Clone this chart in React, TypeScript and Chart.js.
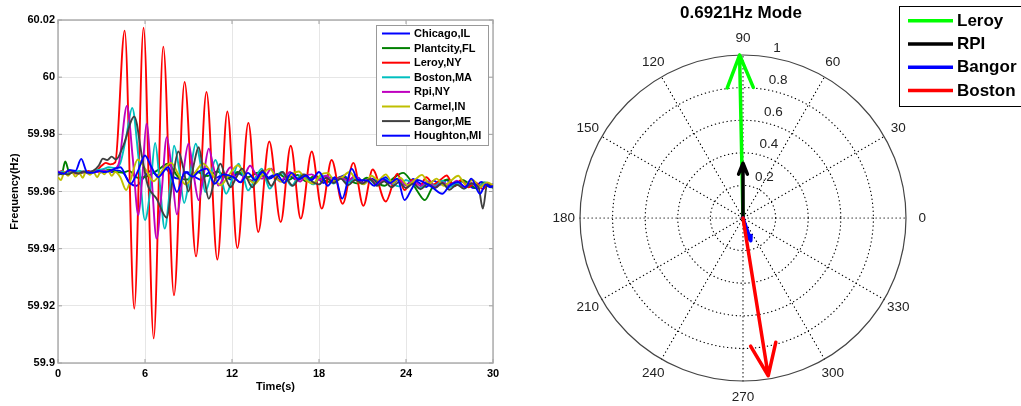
import React, { useEffect, useRef } from 'react';
import { Chart, registerables } from 'chart.js';

Chart.register(...registerables);

const FONT = '"Liberation Sans", Arial, Helvetica, sans-serif';
Chart.defaults.font.family = FONT;

const W_LEFT = 520;
const W_RIGHT = 501;
const H = 406;

// ---------------- Left chart: frequency traces ----------------
const xTickValues = [0, 6, 12, 18, 24, 30];
const xTickLabels = ['0', '6', '12', '18', '24', '30'];
const yTickValues = [59.9, 59.92, 59.94, 59.96, 59.98, 60, 60.02];
const yTickLabels = ['59.9', '59.92', '59.94', '59.96', '59.98', '60', '60.02'];

const seriesNames = ['Chicago,IL', 'Plantcity,FL', 'Leroy,NY', 'Boston,MA', 'Rpi,NY', 'Carmel,IN', 'Bangor,ME', 'Houghton,MI'];
const seriesColors = ['#0000ff', '#008000', '#ff0000', '#00bfbf', '#bf00bf', '#bfbf00', '#404040', '#0000ff'];

// [time (s), frequency (Hz)]
const chicago = [
  [0, 59.9662], [0.3, 59.9668], [0.7, 59.966], [1.0, 59.967], [1.4, 59.9664], [1.8, 59.9669], [2.1, 59.9663], [2.5, 59.9671], [2.9, 59.9666], [3.3, 59.9673],
  [3.7, 59.9668], [4.1, 59.9674], [4.5, 59.9665], [5.0, 59.9628], [5.4, 59.962], [5.9, 59.9648], [6.4, 59.9672], [6.9, 59.9656], [7.4, 59.968], [7.9, 59.9652],
  [8.4, 59.9644], [8.9, 59.9668], [9.4, 59.9652], [9.9, 59.964], [10.4, 59.9666], [10.9, 59.9648], [11.4, 59.966], [11.9, 59.9642], [12.4, 59.9664], [12.9, 59.965],
  [13.4, 59.9638], [13.9, 59.9662], [14.4, 59.9646], [14.9, 59.9658], [15.4, 59.9636], [15.9, 59.9655], [16.4, 59.9643], [16.9, 59.966], [17.3, 59.9638], [17.8, 59.9652],
  [18.3, 59.963], [18.8, 59.965], [19.2, 59.964], [19.7, 59.9656], [20.2, 59.9633], [20.7, 59.9648], [21.1, 59.9628], [21.6, 59.9645], [22.1, 59.9636], [22.6, 59.965],
  [23.0, 59.9627], [23.5, 59.964], [24.0, 59.9622], [24.5, 59.9644], [24.9, 59.963], [25.4, 59.9616], [25.9, 59.9638], [26.4, 59.9624], [26.8, 59.964], [27.3, 59.9618],
  [27.8, 59.9635], [28.3, 59.9622], [28.7, 59.9612], [29.2, 59.9633], [29.7, 59.9618], [30, 59.9626],
];
const plantcity = [
  [0, 59.9668], [0.25, 59.966], [0.5, 59.9705], [0.8, 59.9665], [1.1, 59.9672], [1.5, 59.9664], [1.9, 59.967], [2.3, 59.9666], [2.7, 59.9674], [3.1, 59.9668],
  [3.5, 59.9676], [3.9, 59.967], [4.4, 59.9666], [4.9, 59.9672], [5.5, 59.9648], [6.1, 59.9652], [6.8, 59.9672], [7.6, 59.9697], [8.3, 59.965], [8.9, 59.9642],
  [9.6, 59.9668], [10.3, 59.9654], [11.0, 59.967], [11.7, 59.9646], [12.4, 59.9668], [13.1, 59.965], [13.8, 59.9666], [14.5, 59.9645], [15.2, 59.9662], [15.9, 59.964],
  [16.5, 59.9658], [17.1, 59.9636], [17.7, 59.9655], [18.3, 59.964], [18.9, 59.9632], [19.5, 59.9652], [20.1, 59.9638], [20.7, 59.9628], [21.3, 59.9648], [21.9, 59.9634],
  [22.5, 59.962], [23.1, 59.9645], [23.8, 59.9665], [24.3, 59.964], [24.8, 59.96], [25.3, 59.957], [25.8, 59.9612], [26.3, 59.963], [26.9, 59.9642], [27.4, 59.962],
  [27.9, 59.964], [28.4, 59.9625], [28.9, 59.961], [29.4, 59.9632], [30, 59.9618],
];
const leroy = [
  [0, 59.9665], [0.3, 59.9672], [0.6, 59.966], [0.9, 59.9668], [1.2, 59.9663], [1.5, 59.967], [1.8, 59.9666], [2.1, 59.9672], [2.4, 59.9667], [2.7, 59.9675],
  [3.0, 59.969], [3.3, 59.97], [3.6, 59.9695], [3.95, 59.9702], [4.6, 60.0163], [5.26, 59.919], [5.9, 60.0173], [6.6, 59.9086], [7.26, 60.0107], [8.0, 59.9237],
  [8.73, 59.9983], [9.52, 59.9373], [10.24, 59.9948], [10.99, 59.9362], [11.68, 59.988], [12.37, 59.9402], [13.13, 59.984], [13.81, 59.9458], [14.57, 59.9775], [15.36, 59.9493],
  [16.05, 59.976], [16.74, 59.9505], [17.5, 59.974], [18.19, 59.954], [18.87, 59.971], [19.63, 59.9557], [20.37, 59.97], [21.06, 59.955], [21.7, 59.9677], [22.6, 59.9565],
  [23.4, 59.9662], [23.9, 59.9605], [24.4, 59.964], [24.9, 59.9612], [25.4, 59.965], [25.9, 59.9625], [26.4, 59.9642], [26.8, 59.9656], [27.3, 59.9618], [27.8, 59.964],
  [28.3, 59.9615], [28.8, 59.9632], [29.3, 59.9608], [29.7, 59.9628], [30, 59.9615],
];
const boston = [
  [0, 59.9665], [0.3, 59.967], [0.7, 59.9663], [1.1, 59.9668], [1.5, 59.9672], [1.9, 59.9665], [2.3, 59.967], [2.7, 59.9675], [3.1, 59.9678], [3.5, 59.9685],
  [3.9, 59.9682], [4.3, 59.97], [4.7, 59.979], [5.12, 59.9892], [5.55, 59.972], [6.0, 59.95], [6.35, 59.96], [6.7, 59.977], [7.0, 59.964], [7.36, 59.947],
  [7.7, 59.96], [8.0, 59.976], [8.35, 59.968], [8.7, 59.956], [9.1, 59.966], [9.5, 59.9767], [9.85, 59.969], [10.15, 59.9598], [10.5, 59.965], [10.85, 59.971],
  [11.2, 59.966], [11.6, 59.9592], [12.0, 59.964], [12.45, 59.9697], [12.8, 59.965], [13.1, 59.9604], [13.6, 59.9645], [14.05, 59.968], [14.35, 59.964], [14.6, 59.961],
  [15.0, 59.964], [15.4, 59.9668], [15.75, 59.9645], [16.1, 59.962], [16.5, 59.9645], [16.8, 59.966], [17.2, 59.964], [17.6, 59.9625], [18.0, 59.9648], [18.5, 59.9655],
  [19.0, 59.9628], [19.5, 59.9645], [20.0, 59.963], [20.5, 59.965], [21.0, 59.9626], [21.5, 59.964], [22.0, 59.9622], [22.5, 59.9645], [23.0, 59.963], [23.5, 59.9618],
  [24.0, 59.964], [24.5, 59.9625], [25.0, 59.9612], [25.5, 59.9635], [26.0, 59.962], [26.5, 59.9638], [27.0, 59.9615], [27.5, 59.963], [28.0, 59.961], [28.5, 59.9628],
  [29.0, 59.9615], [29.5, 59.9632], [30, 59.9612],
];
const rpi = [
  [0, 59.967], [0.35, 59.9664], [0.7, 59.9672], [1.05, 59.9667], [1.4, 59.9662], [1.75, 59.9669], [2.1, 59.9665], [2.45, 59.9672], [2.8, 59.9668], [3.15, 59.9674],
  [3.5, 59.967], [3.85, 59.9678], [4.2, 59.97], [4.76, 59.99], [5.15, 59.972], [5.54, 59.9517], [5.8, 59.964], [6.1, 59.9837], [6.45, 59.965], [6.8, 59.9435],
  [7.15, 59.96], [7.5, 59.979], [7.85, 59.967], [8.2, 59.952], [8.6, 59.965], [9.0, 59.9767], [9.35, 59.966], [9.7, 59.957], [10.05, 59.966], [10.4, 59.975],
  [10.7, 59.969], [11.05, 59.9621], [11.45, 59.965], [11.9, 59.9685], [12.2, 59.965], [12.55, 59.9633], [12.9, 59.966], [13.25, 59.969], [13.65, 59.966], [14.05, 59.9645],
  [14.4, 59.966], [14.7, 59.968], [15.0, 59.9655], [15.3, 59.9635], [15.65, 59.965], [16.0, 59.9668], [16.35, 59.9648], [16.7, 59.9635], [17.1, 59.9655], [17.5, 59.966],
  [18.0, 59.964], [18.5, 59.9655], [19.0, 59.9632], [19.5, 59.965], [20.0, 59.9638], [20.5, 59.9655], [21.0, 59.963], [21.5, 59.9646], [22.0, 59.9625], [22.5, 59.964],
  [23.0, 59.9628], [23.5, 59.9645], [24.0, 59.9622], [24.5, 59.9638], [25.0, 59.962], [25.5, 59.9635], [26.0, 59.9615], [26.5, 59.9632], [27.0, 59.9622], [27.5, 59.9638],
  [28.0, 59.9616], [28.5, 59.963], [29.0, 59.9612], [29.5, 59.9628], [30, 59.9618],
];
const carmel = [
  [0, 59.965], [0.2, 59.964], [0.45, 59.9668], [0.7, 59.9655], [0.95, 59.967], [1.2, 59.9652], [1.45, 59.9666], [1.7, 59.9648], [1.95, 59.9672], [2.2, 59.9658],
  [2.45, 59.9668], [2.7, 59.965], [2.95, 59.967], [3.2, 59.966], [3.45, 59.9674], [3.7, 59.9655], [3.95, 59.9668], [4.3, 59.965], [4.7, 59.9605], [5.0, 59.964],
  [5.5, 59.9712], [6.0, 59.968], [6.6, 59.9636], [7.2, 59.9675], [7.8, 59.97], [8.3, 59.966], [8.8, 59.9625], [9.4, 59.9662], [10.0, 59.9698], [10.6, 59.9664],
  [11.2, 59.9622], [11.8, 59.9658], [12.4, 59.9692], [13.0, 59.965], [13.6, 59.9628], [14.1, 59.966], [14.6, 59.968], [15.1, 59.9645], [15.6, 59.9632], [16.1, 59.966],
  [16.6, 59.967], [17.1, 59.964], [17.6, 59.9628], [18.1, 59.9658], [18.6, 59.9665], [19.1, 59.9635], [19.6, 59.965], [20.1, 59.9668], [20.6, 59.9638], [21.1, 59.9625],
  [21.6, 59.9655], [22.1, 59.964], [22.6, 59.966], [23.1, 59.963], [23.6, 59.9648], [24.1, 59.9622], [24.6, 59.964], [25.1, 59.9658], [25.6, 59.9628], [26.1, 59.9645],
  [26.6, 59.962], [27.1, 59.9638], [27.6, 59.9655], [28.1, 59.9625], [28.6, 59.964], [29.1, 59.9615], [29.6, 59.9632], [30, 59.9622],
];
const bangor = [
  [0, 59.9658], [0.35, 59.9664], [0.7, 59.966], [1.05, 59.9668], [1.4, 59.9663], [1.75, 59.967], [2.1, 59.9666], [2.45, 59.9673], [2.8, 59.969], [3.1, 59.9715],
  [3.4, 59.971], [3.7, 59.9722], [4.0, 59.9712], [4.5, 59.976], [5.26, 59.9862], [5.8, 59.972], [6.2, 59.962], [6.8, 59.9575], [7.5, 59.9508], [7.9, 59.964],
  [8.3, 59.974], [8.65, 59.968], [9.0, 59.96], [9.35, 59.969], [9.7, 59.9755], [10.05, 59.966], [10.4, 59.9575], [10.8, 59.964], [11.2, 59.9697], [11.55, 59.965],
  [11.9, 59.9615], [12.3, 59.965], [12.7, 59.968], [13.05, 59.9645], [13.4, 59.9615], [13.75, 59.9645], [14.1, 59.9674], [14.4, 59.9645], [14.7, 59.962], [15.1, 59.965],
  [15.5, 59.9668], [15.85, 59.964], [16.2, 59.962], [16.6, 59.9645], [17.0, 59.966], [17.5, 59.9636], [18.0, 59.9625], [18.5, 59.9648], [19.0, 59.963], [19.5, 59.9645],
  [20.0, 59.9622], [20.5, 59.964], [21.0, 59.9628], [21.5, 59.9643], [22.0, 59.962], [22.5, 59.9636], [23.0, 59.9615], [23.5, 59.9632], [24.0, 59.9612], [24.5, 59.9628],
  [25.0, 59.9608], [25.5, 59.9626], [26.0, 59.9612], [26.5, 59.963], [27.0, 59.9606], [27.5, 59.9624], [28.0, 59.961], [28.5, 59.9628], [29.0, 59.9615], [29.3, 59.954],
  [29.6, 59.9625], [30, 59.9612],
];
const houghton = [
  [0, 59.9668], [0.4, 59.9662], [0.8, 59.9675], [1.2, 59.9672], [1.6, 59.9714], [2.0, 59.9668], [2.4, 59.9665], [2.8, 59.9672], [3.24, 59.9668], [3.7, 59.9675],
  [4.3, 59.9685], [5.0, 59.9627], [5.5, 59.967], [6.0, 59.9726], [6.4, 59.969], [6.9, 59.965], [7.6, 59.9685], [8.2, 59.9598], [8.76, 59.9668], [9.3, 59.9652],
  [9.7, 59.967], [10.25, 59.968], [10.8, 59.9627], [11.4, 59.966], [12.1, 59.965], [12.6, 59.9632], [13.1, 59.9665], [13.6, 59.964], [14.1, 59.9668], [14.6, 59.9645],
  [15.1, 59.966], [15.6, 59.963], [16.1, 59.9665], [16.6, 59.9642], [17.1, 59.9656], [17.5, 59.964], [18.0, 59.9668], [18.6, 59.962], [19.1, 59.965], [19.6, 59.9575],
  [20.25, 59.968], [20.7, 59.964], [21.3, 59.9639], [21.8, 59.962], [22.4, 59.9645], [22.9, 59.963], [23.4, 59.9645], [23.9, 59.957], [24.4, 59.961], [24.8, 59.964],
  [25.2, 59.9633], [25.8, 59.9615], [26.5, 59.9592], [27.0, 59.962], [27.6, 59.9633], [28.1, 59.9615], [28.5, 59.9645], [29.1, 59.9592], [29.5, 59.9625], [29.8, 59.9615],
  [30, 59.962],
];
const seriesData = [chicago, plantcity, leroy, boston, rpi, carmel, bangor, houghton];

// ---------------- Right chart: compass plot ----------------
const compassTitle = '0.6921Hz Mode';
const compassLabels = ['Leroy', 'RPI', 'Bangor', 'Boston'];
const compassColors = ['#00ff00', '#000000', '#0000ff', '#ff0000'];
const compassMagnitudes = [1.0, 0.336, 0.147, 0.98];
const compassAnglesDeg = [91.2, 90, 289, 279.1];
const ringValues = [0.2, 0.4, 0.6, 0.8];
const ringLabelValues = [0.2, 0.4, 0.6, 0.8, 1];
const ringLabels = ['0.2', '0.4', '0.6', '0.8', '1'];
const spokeAnglesDeg = [0, 30, 60, 90, 120, 150];
const angleLabelValues = [0, 30, 60, 90, 120, 150, 180, 210, 240, 270, 300, 330];
const angleLabels = ['0', '30', '60', '90', '120', '150', '180', '210', '240', '270', '300', '330'];

const leftDecor = {
  id: 'leftDecor',
  beforeDatasetsDraw(chart: any) {
    const { ctx, chartArea: a, scales } = chart;
    ctx.save();
    ctx.strokeStyle = '#a0a0a0';
    ctx.lineWidth = 1;
    ctx.beginPath();
    xTickValues.forEach((v) => {
      const px = scales.x.getPixelForValue(v);
      ctx.moveTo(px, a.top);
      ctx.lineTo(px, a.top + 4);
      ctx.moveTo(px, a.bottom);
      ctx.lineTo(px, a.bottom - 4);
    });
    yTickValues.forEach((v) => {
      const py = scales.y.getPixelForValue(v);
      ctx.moveTo(a.left, py);
      ctx.lineTo(a.left + 4, py);
      ctx.moveTo(a.right, py);
      ctx.lineTo(a.right - 4, py);
    });
    ctx.stroke();
    ctx.lineWidth = 1.4;
    ctx.strokeStyle = '#a8a8a8';
    ctx.strokeRect(a.left, a.top, a.right - a.left, a.bottom - a.top);
    ctx.restore();
  },
  afterDatasetsDraw(chart: any) {
    const { ctx, chartArea: a } = chart;
    const bw = 112;
    const bh = 120;
    const bx = a.right - 5 - bw;
    const by = a.top + 5;
    ctx.save();
    ctx.fillStyle = '#ffffff';
    ctx.fillRect(bx, by, bw, bh);
    ctx.strokeStyle = '#999999';
    ctx.lineWidth = 1;
    ctx.strokeRect(bx + 0.5, by + 0.5, bw, bh);
    ctx.font = `bold 11px ${FONT}`;
    ctx.textBaseline = 'middle';
    ctx.textAlign = 'left';
    seriesNames.forEach((name, i) => {
      const y = by + 8.5 + i * 14.6;
      ctx.strokeStyle = seriesColors[i];
      ctx.lineWidth = 2;
      ctx.beginPath();
      ctx.moveTo(bx + 6, y);
      ctx.lineTo(bx + 34, y);
      ctx.stroke();
      ctx.fillStyle = '#000';
      ctx.fillText(name, bx + 38, y + 0.5);
    });
    ctx.restore();
  },
};

function FrequencyChart() {
  const ref = useRef<HTMLCanvasElement>(null);
  useEffect(() => {
    const canvas = ref.current;
    if (!canvas) return;
    const tickFont = { family: FONT, size: 11, weight: 'bold' as const };
    const chart = new Chart(canvas, {
      type: 'line',
      data: {
        datasets: seriesData.map((s, i) => ({
          label: seriesNames[i],
          data: s.map((p) => ({ x: p[0], y: p[1] })),
          borderColor: seriesColors[i],
          backgroundColor: seriesColors[i],
          borderWidth: 1.9,
          pointRadius: 0,
          fill: false,
          cubicInterpolationMode: 'monotone' as const,
          order: seriesData.length - i,
        })),
      },
      options: {
        animation: false,
        responsive: false,
        devicePixelRatio: 1,
        layout: { padding: { left: 0, top: 20, right: 27, bottom: 0 } },
        plugins: { legend: { display: false }, tooltip: { enabled: false } },
        scales: {
          x: {
            type: 'linear',
            min: 0,
            max: 30,
            afterBuildTicks: (s: any) => {
              s.ticks = xTickValues.map((v) => ({ value: v }));
            },
            afterFit: (s: any) => {
              s.height = 43;
            },
            ticks: {
              font: tickFont,
              color: '#000',
              padding: 4,
              maxRotation: 0,
              autoSkip: false,
              callback: (value: any) => {
                const i = xTickValues.findIndex((v) => Math.abs(v - value) < 1e-6);
                return i >= 0 ? xTickLabels[i] : '';
              },
            },
            grid: { color: '#e6e6e6', drawTicks: false, lineWidth: 1 },
            border: { display: false },
            title: { display: true, text: 'Time(s)', font: tickFont, color: '#000', padding: { top: 0, bottom: 12 } },
          },
          y: {
            type: 'linear',
            min: 59.9,
            max: 60.02,
            afterBuildTicks: (s: any) => {
              s.ticks = yTickValues.map((v) => ({ value: v }));
            },
            afterFit: (s: any) => {
              s.width = 58;
            },
            ticks: {
              font: tickFont,
              color: '#000',
              padding: 3,
              autoSkip: false,
              callback: (value: any) => {
                const i = yTickValues.findIndex((v) => Math.abs(v - value) < 1e-6);
                return i >= 0 ? yTickLabels[i] : '';
              },
            },
            grid: { color: '#e6e6e6', drawTicks: false, lineWidth: 1 },
            border: { display: false },
            title: { display: true, text: 'Frequency(Hz)', font: tickFont, color: '#000', padding: { top: 8, bottom: 0 } },
          },
        },
      },
      plugins: [leftDecor],
    } as any);
    return () => chart.destroy();
  }, []);
  return <canvas ref={ref} width={W_LEFT} height={H} style={{ display: 'block', width: W_LEFT, height: H }} />;
}

const polarDecor = {
  id: 'polarDecor',
  beforeDatasetsDraw(chart: any) {
    const { ctx, scales } = chart;
    const xs = scales.x;
    const ys = scales.y;
    const cx = xs.getPixelForValue(0);
    const cy = ys.getPixelForValue(0);
    const R = xs.getPixelForValue(1) - cx;
    ctx.save();
    // dotted rings
    ctx.strokeStyle = '#000';
    ctx.lineWidth = 1.2;
    ctx.lineCap = 'round';
    ctx.setLineDash([0.3, 3.7]);
    ringValues.forEach((r) => {
      ctx.beginPath();
      ctx.arc(cx, cy, r * R, 0, Math.PI * 2);
      ctx.stroke();
    });
    // dotted spokes
    spokeAnglesDeg.forEach((deg) => {
      const t = (deg * Math.PI) / 180;
      ctx.beginPath();
      ctx.moveTo(cx - R * Math.cos(t), cy + R * Math.sin(t));
      ctx.lineTo(cx + R * Math.cos(t), cy - R * Math.sin(t));
      ctx.stroke();
    });
    ctx.setLineDash([]);
    ctx.lineCap = 'butt';
    // outer circle
    ctx.strokeStyle = '#444';
    ctx.lineWidth = 1.2;
    ctx.beginPath();
    ctx.arc(cx, cy, R, 0, Math.PI * 2);
    ctx.stroke();
    // angle labels
    ctx.fillStyle = '#222';
    ctx.font = `13.5px ${FONT}`;
    ctx.textAlign = 'center';
    ctx.textBaseline = 'middle';
    angleLabelValues.forEach((deg, i) => {
      const t = (deg * Math.PI) / 180;
      ctx.fillText(angleLabels[i], cx + 1.1 * R * Math.cos(t), cy - 1.1 * R * Math.sin(t));
    });
    // ring labels at 82 deg
    ctx.textAlign = 'left';
    ctx.textBaseline = 'alphabetic';
    const t82 = (82 * Math.PI) / 180;
    ringLabelValues.forEach((r, i) => {
      ctx.fillText(ringLabels[i], cx + r * R * Math.cos(t82) + 7.5, cy - r * R * Math.sin(t82) - 5);
    });
    ctx.restore();
  },
  afterDatasetsDraw(chart: any) {
    const { ctx, scales } = chart;
    const cx = scales.x.getPixelForValue(0);
    ctx.save();
    // title
    ctx.fillStyle = '#000';
    ctx.font = `bold 17px ${FONT}`;
    ctx.textAlign = 'center';
    ctx.textBaseline = 'middle';
    ctx.fillText(compassTitle, cx - 2, 13.5);
    // legend
    const bx = 379;
    const by = 6;
    ctx.fillStyle = '#fff';
    ctx.fillRect(bx, by, 140, 100);
    ctx.strokeStyle = '#000';
    ctx.lineWidth = 1;
    ctx.strokeRect(bx + 0.5, by + 0.5, 140, 100);
    ctx.font = `bold 17px ${FONT}`;
    ctx.textAlign = 'left';
    compassLabels.forEach((name, i) => {
      const y = by + 14.7 + i * 23.3;
      ctx.strokeStyle = compassColors[i];
      ctx.lineWidth = 3.5;
      ctx.beginPath();
      ctx.moveTo(bx + 9, y);
      ctx.lineTo(bx + 54, y);
      ctx.stroke();
      ctx.fillStyle = '#000';
      ctx.fillText(name, bx + 58, y + 0.5);
    });
    ctx.restore();
  },
};

function arrowPoints(mag: number, deg: number) {
  const t = (deg * Math.PI) / 180;
  const ux = Math.cos(t);
  const uy = Math.sin(t);
  const px = -uy;
  const py = ux;
  const tip = { x: mag * ux, y: mag * uy };
  const back = { x: 0.8 * mag * ux, y: 0.8 * mag * uy };
  return [
    { x: 0, y: 0 },
    tip,
    { x: back.x + 0.08 * mag * px, y: back.y + 0.08 * mag * py },
    tip,
    { x: back.x - 0.08 * mag * px, y: back.y - 0.08 * mag * py },
  ];
}

function CompassChart() {
  const ref = useRef<HTMLCanvasElement>(null);
  useEffect(() => {
    const canvas = ref.current;
    if (!canvas) return;
    const chart = new Chart(canvas, {
      type: 'scatter',
      data: {
        datasets: compassLabels.map((name, i) => ({
          label: name,
          data: arrowPoints(compassMagnitudes[i], compassAnglesDeg[i]),
          showLine: true,
          borderColor: compassColors[i],
          backgroundColor: compassColors[i],
          borderWidth: 3.5,
          borderJoinStyle: 'round' as const,
          borderCapStyle: 'round' as const,
          pointRadius: 0,
          tension: 0,
          clip: false,
          order: compassLabels.length - i,
        })),
      },
      options: {
        animation: false,
        responsive: false,
        devicePixelRatio: 1,
        layout: { padding: { left: 60, right: 115, top: 55, bottom: 25 } },
        plugins: { legend: { display: false }, tooltip: { enabled: false } },
        scales: {
          x: { type: 'linear', min: -1, max: 1, display: false },
          y: { type: 'linear', min: -1, max: 1, display: false },
        },
      },
      plugins: [polarDecor],
    } as any);
    return () => chart.destroy();
  }, []);
  return <canvas ref={ref} width={W_RIGHT} height={H} style={{ display: 'block', width: W_RIGHT, height: H }} />;
}

export default function App() {
  return (
    <div style={{ position: 'fixed', left: 0, top: 0, width: 1021, height: 406, background: '#fff', overflow: 'hidden' }}>
      <div style={{ position: 'absolute', left: 0, top: 0, width: W_LEFT, height: H }}>
        <FrequencyChart />
      </div>
      <div style={{ position: 'absolute', left: W_LEFT, top: 0, width: W_RIGHT, height: H }}>
        <CompassChart />
      </div>
    </div>
  );
}
